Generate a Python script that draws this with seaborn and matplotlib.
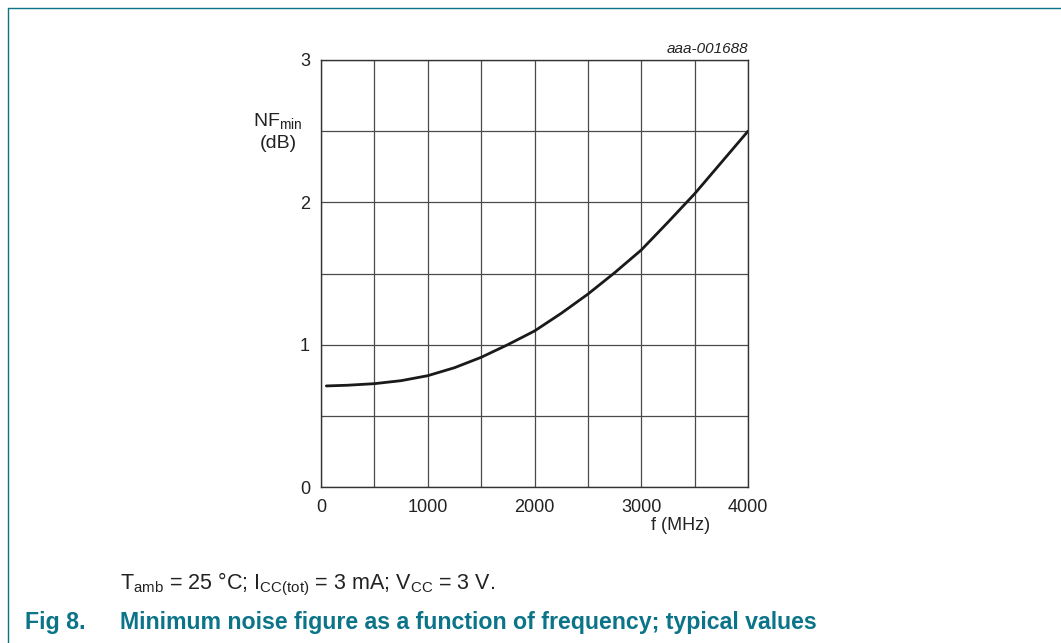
import numpy as np
import pandas as pd
import seaborn as sns
import matplotlib.pyplot as plt
from matplotlib.lines import Line2D
from matplotlib.ticker import MultipleLocator

# values
freq_mhz = [50, 250, 500, 750, 1000, 1250, 1500, 1750, 2000, 2250,
            2500, 2750, 3000, 3250, 3500, 3750, 4000]
nf_min_db = [0.71, 0.715, 0.726, 0.747, 0.782, 0.838, 0.911, 1.0, 1.096, 1.22,
             1.355, 1.505, 1.665, 1.86, 2.06, 2.28, 2.5]
x_ticks = [0, 1000, 2000, 3000, 4000]
y_ticks = [0, 1, 2, 3]

df = pd.DataFrame({'f': freq_mhz, 'nf': nf_min_db})

sns.set_style('white')
plt.rcParams['font.family'] = ['Liberation Sans', 'DejaVu Sans']
plt.rcParams['mathtext.default'] = 'regular'

teal = '#0B7489'
text_col = '#222222'

fig = plt.figure(figsize=(10.61, 6.43), dpi=100)
ax = fig.add_axes([321 / 1061, 1 - 487 / 643, 427 / 1061, 427 / 643])

sns.lineplot(data=df, x='f', y='nf', ax=ax, color='#1a1a1a', linewidth=2.0)
ax.lines[0].set_solid_joinstyle('round')

ax.set_xlim(0, 4000)
ax.set_ylim(0, 3)
ax.set_xticks(x_ticks)
ax.set_yticks(y_ticks)
ax.xaxis.set_minor_locator(MultipleLocator(500))
ax.yaxis.set_minor_locator(MultipleLocator(0.5))
ax.grid(True, which='both', color='#4a4a4a', linewidth=0.9)
ax.tick_params(which='both', length=0, labelsize=13, labelcolor=text_col)
ax.tick_params(axis='x', pad=9)
ax.tick_params(axis='y', pad=8)
ax.set_xlabel('')
ax.set_ylabel('')
for s in ax.spines.values():
    s.set_color('#333333')
    s.set_linewidth(1.0)

# axis labels placed like the datasheet
fig.text(278 / 1061, 1 - 121 / 643, r'NF$_{min}$', ha='center', va='center',
         fontsize=14, color=text_col)
fig.text(278 / 1061, 1 - 143 / 643, '(dB)', ha='center', va='center',
         fontsize=14, color=text_col)
fig.text(681 / 1061, 1 - 526 / 643, 'f (MHz)', ha='center', va='center',
         fontsize=13, color=text_col)
fig.text(748 / 1061, 1 - 49 / 643, 'aaa-001688', ha='right', va='center',
         fontsize=11, style='italic', color=text_col)

# conditions and caption
fig.text(120 / 1061, 1 - 584 / 643,
         r'T$_{amb}$ = 25 °C; I$_{CC(tot)}$ = 3 mA; V$_{CC}$ = 3 V.',
         ha='left', va='center', fontsize=15.5, color=text_col)
fig.text(25 / 1061, 1 - 623 / 643, 'Fig 8.', ha='left', va='center',
         fontsize=16.7, fontweight='bold', color=teal)
fig.text(120 / 1061, 1 - 623 / 643,
         'Minimum noise figure as a function of frequency; typical values',
         ha='left', va='center', fontsize=16.7, fontweight='bold', color=teal)

# frame lines (top and left)
fig.add_artist(Line2D([7.5 / 1061, 1], [1 - 7.5 / 643, 1 - 7.5 / 643],
                      color=teal, linewidth=1.0, transform=fig.transFigure))
fig.add_artist(Line2D([7.5 / 1061, 7.5 / 1061], [0, 1 - 7.5 / 643],
                      color=teal, linewidth=1.0, transform=fig.transFigure))

plt.savefig('out.png', dpi=100)
